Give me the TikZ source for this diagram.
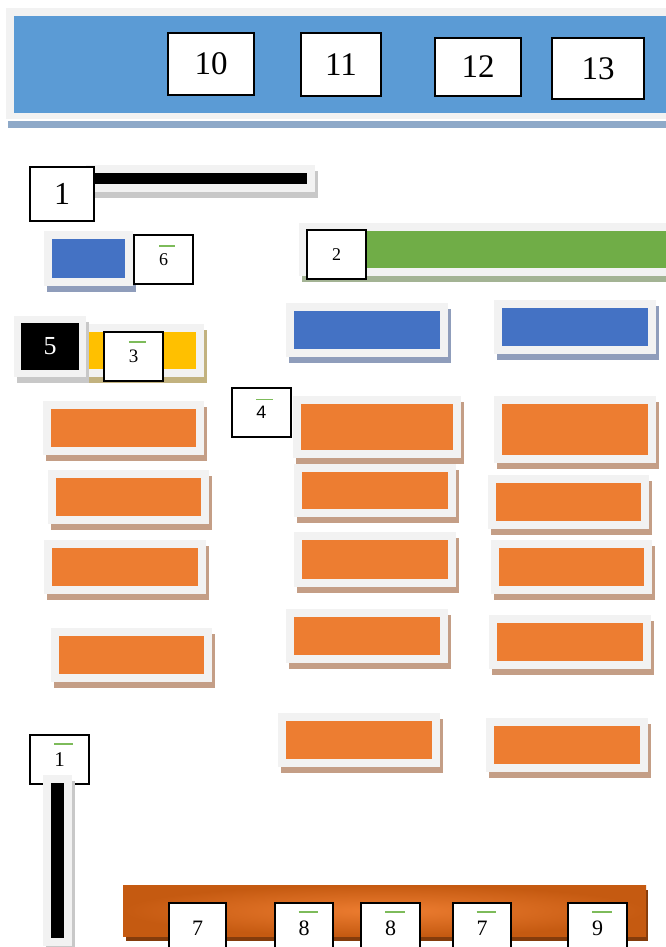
\documentclass[tikz,border=0pt]{standalone}
\usepackage{fontspec}
\setmainfont{Liberation Serif}
\newfontfamily\arialfont{Liberation Sans}
\usepackage{xcolor}

\definecolor{framegray}{HTML}{F2F2F2}
\definecolor{bandblue}{HTML}{5B9BD5}
\definecolor{bandshade}{HTML}{8EA9C8}
\definecolor{boxblue}{HTML}{4472C4}
\definecolor{blueshade}{HTML}{8F9DBB}
\definecolor{greenfill}{HTML}{70AD47}
\definecolor{greenshade}{HTML}{A3B394}
\definecolor{yellowfill}{HTML}{FFC000}
\definecolor{yellowshade}{HTML}{C2B27F}
\definecolor{orangefill}{HTML}{ED7D31}
\definecolor{orangeshade}{HTML}{C49E86}
\definecolor{barshade}{HTML}{C8C8C8}
\definecolor{brownfill}{HTML}{C55A11}
\definecolor{brownshade}{HTML}{843C0C}
\definecolor{bargreen}{HTML}{7DBB5A}

% digit with the short green bar over it
\newcommand{\gbar}[1]{\makebox[0pt][l]{\smash{\textcolor{bargreen}{\rule[1.02em]{0.9em}{0.1em}}}}#1}

% frame + inner fill + drop shadow
\newcommand{\panelbox}[6]{%
  \fill[#6] (#1+3,#2+6) rectangle (#3+3,#4+6);
  \fill[framegray] (#1,#2) rectangle (#3,#4);
  \fill[#5] (#1+8,#2+8) rectangle (#3-8,#4-8);
}

\tikzset{
  numbox/.style={draw=black, line width=1.4pt, fill=white, inner sep=0pt,
    minimum width=59, minimum height=49},
}

\begin{document}
\begin{tikzpicture}[x=1pt,y=-1pt]
  \useasboundingbox (0,0) rectangle (666,947);

  % Top band
  \fill[bandshade] (8,121) rectangle (670,128);
  \fill[framegray] (6,8) rectangle (670,119);
  \fill[bandblue] (14,16) rectangle (670,113);
  \node[numbox, minimum width=86, minimum height=62, font=\fontsize{33}{36}\selectfont] (b10) at (211,64) {10};
  \node[numbox, minimum width=80, minimum height=63, font=\fontsize{33}{36}\selectfont] (b11) at (341,64.5) {11};
  \node[numbox, minimum width=86, minimum height=58, font=\fontsize{33}{36}\selectfont] (b12) at (478,67) {12};
  \node[numbox, minimum width=92, minimum height=61, font=\fontsize{33}{36}\selectfont] (b13) at (598,68.5) {13};

  % Black bar with box 1
  \panelbox{86}{165}{315}{192}{black}{barshade}
  \node[numbox, minimum width=64, minimum height=54, font=\fontsize{32}{34}\selectfont] (b1) at (62,194) {1};

  % Small blue panel with box 6
  \panelbox{44}{231}{133}{286}{boxblue}{blueshade}
  \node[numbox, font=\fontsize{18}{20}\selectfont] (b6) at (163.5,259.5) {\gbar{6}};

  % Green bar with box 2
  \panelbox{299}{223}{680}{276}{greenfill}{greenshade}
  \node[numbox, font=\fontsize{18}{20}\selectfont] (b2) at (336.5,254.5) {2};

  % Blue panels
  \panelbox{286}{303}{448}{357}{boxblue}{blueshade}
  \panelbox{494}{300}{656}{354}{boxblue}{blueshade}

  % Yellow bar with boxes 5 and 3
  \panelbox{43}{324}{204}{377}{yellowfill}{yellowshade}
  \panelbox{14}{316}{86}{377}{black}{barshade}
  \node[numbox, fill=black, text=white, minimum width=56, minimum height=45,
    font=\fontsize{26}{28}\selectfont] (b5) at (50,346.5) {5};
  \node[numbox, font=\fontsize{19}{21}\selectfont] (b3) at (133.5,356.5) {\gbar{3}};

  % Box 4
  \node[numbox, font=\arialfont\fontsize{18}{20}\selectfont] (b4) at (261.5,412.5) {\gbar{4}};

  % Orange panels
  \foreach \xa/\ya/\xb/\yb in {43/401/204/455, 48/470/209/524, 44/540/206/594, 51/628/212/682,
      293/396/461/458, 294/464/456/517, 294/532/456/587, 286/609/448/663, 278/713/440/767,
      494/396/656/463, 488/475/649/529, 491/540/652/594, 489/615/651/669, 486/718/648/772}
    {\panelbox{\xa}{\ya}{\xb}{\yb}{orangefill}{orangeshade}}

  % Vertical bar with box 1
  \node[numbox, font=\fontsize{21}{23}\selectfont] (b1low) at (59.5,759.5) {\gbar{1}};
  \panelbox{43}{775}{72}{946}{black}{barshade}

  % Bottom bar
  \fill[brownshade] (126,890) rectangle (648,941);
  \shade[inner color=orangefill, outer color=brownfill] (123,885) rectangle (646,936);
  \node[numbox, minimum width=57, minimum height=50, font=\fontsize{22}{24}\selectfont] (b7a) at (197.5,928) {7};
  \node[numbox, minimum width=58, minimum height=50, font=\fontsize{22}{24}\selectfont] (b8a) at (304,928) {\gbar{8}};
  \node[numbox, minimum width=59, minimum height=50, font=\fontsize{22}{24}\selectfont] (b8b) at (390.5,928) {\gbar{8}};
  \node[numbox, minimum width=58, minimum height=50, font=\fontsize{22}{24}\selectfont] (b7b) at (482,928) {\gbar{7}};
  \node[numbox, minimum width=59, minimum height=50, font=\fontsize{22}{24}\selectfont] (b9) at (597.5,928) {\gbar{9}};
\end{tikzpicture}
\end{document}
